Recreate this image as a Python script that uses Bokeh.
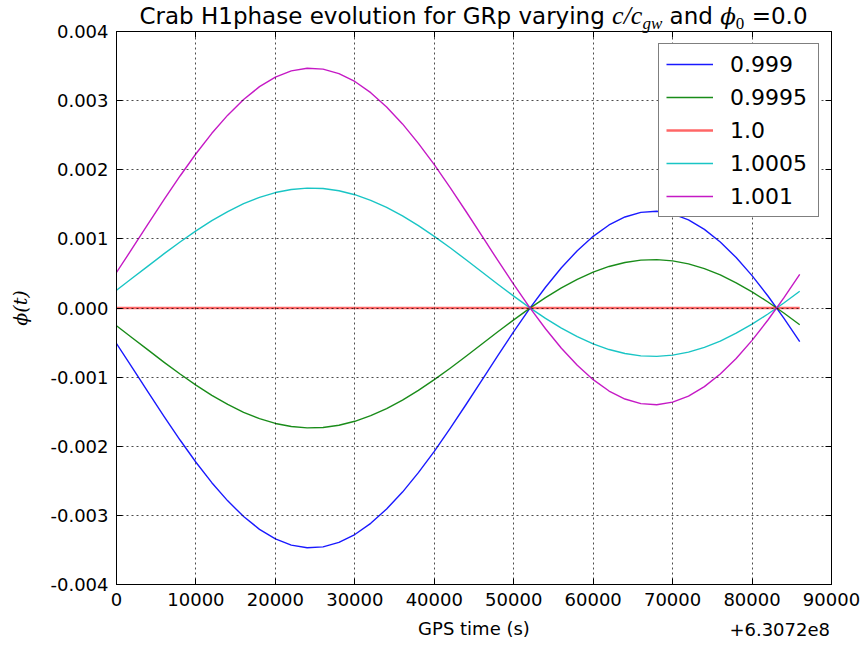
from bokeh.plotting import figure
from bokeh.embed import file_html
from bokeh.resources import INLINE
from bokeh.layouts import column
from bokeh.models import (Range1d, FixedTicker, NumeralTickFormatter, CustomJSTickFormatter,
                          LinearAxis, Legend, LegendItem, Div)

# GPS time since +6.3072e8 s
gps_time = [0, 2000, 4000, 6000, 8000, 10000, 12000, 14000, 16000, 18000,
            20000, 22000, 24000, 26000, 28000, 30000, 32000, 34000, 36000, 38000,
            40000, 42000, 44000, 46000, 48000, 50000, 52000, 54000, 56000, 58000,
            60000, 62000, 64000, 66000, 68000, 70000, 72000, 74000, 76000, 78000,
            80000, 82000, 84000, 86000]

# phase offset phi(t) for each value of c/c_gw
phase_0999 = [-0.000514, -0.000865, -0.001220, -0.001571, -0.001910, -0.002231, -0.002527, -0.002790,
              -0.003017, -0.003202, -0.003340, -0.003430, -0.003468, -0.003455, -0.003391, -0.003277,
              -0.003115, -0.002909, -0.002663, -0.002382, -0.002073, -0.001742, -0.001396, -0.001042,
              -0.000688, -0.000342, -0.000010, 0.000300, 0.000582, 0.000829, 0.001037, 0.001201,
              0.001317, 0.001384, 0.001399, 0.001362, 0.001275, 0.001138, 0.000955, 0.000730,
              0.000468, 0.000174, -0.000146, -0.000485]
phase_09995 = [-0.000257, -0.000433, -0.000610, -0.000786, -0.000955, -0.001116, -0.001264, -0.001395,
               -0.001509, -0.001601, -0.001670, -0.001715, -0.001734, -0.001728, -0.001696, -0.001639,
               -0.001558, -0.001455, -0.001332, -0.001191, -0.001037, -0.000871, -0.000698, -0.000521,
               -0.000344, -0.000171, -0.000005, 0.000150, 0.000291, 0.000415, 0.000519, 0.000601,
               0.000659, 0.000692, 0.000700, 0.000681, 0.000638, 0.000569, 0.000478, 0.000365,
               0.000234, 0.000087, -0.000073, -0.000243]
phase_1 = [0.0] * len(gps_time)
phase_10005 = [0.000257, 0.000433, 0.000610, 0.000786, 0.000955, 0.001116, 0.001264, 0.001395,
               0.001509, 0.001601, 0.001670, 0.001715, 0.001734, 0.001728, 0.001696, 0.001639,
               0.001558, 0.001455, 0.001332, 0.001191, 0.001037, 0.000871, 0.000698, 0.000521,
               0.000344, 0.000171, 0.000005, -0.000150, -0.000291, -0.000415, -0.000519, -0.000601,
               -0.000659, -0.000692, -0.000700, -0.000681, -0.000638, -0.000569, -0.000478, -0.000365,
               -0.000234, -0.000087, 0.000073, 0.000243]
phase_1001 = [0.000514, 0.000865, 0.001220, 0.001571, 0.001910, 0.002231, 0.002527, 0.002790,
              0.003017, 0.003202, 0.003340, 0.003430, 0.003468, 0.003455, 0.003391, 0.003277,
              0.003115, 0.002909, 0.002663, 0.002382, 0.002073, 0.001742, 0.001396, 0.001042,
              0.000688, 0.000342, 0.000010, -0.000300, -0.000582, -0.000829, -0.001037, -0.001201,
              -0.001317, -0.001384, -0.001399, -0.001362, -0.001275, -0.001138, -0.000955, -0.000730,
              -0.000468, -0.000174, 0.000146, 0.000485]

labels = ["0.999", "0.9995", "1.0", "1.0005", "1.001"]
x_ticks = [0, 10000, 20000, 30000, 40000, 50000, 60000, 70000, 80000, 90000]
y_ticks = [-0.004, -0.003, -0.002, -0.001, 0.0, 0.001, 0.002, 0.003, 0.004]

SANS = "DejaVu Sans"
SERIF = "DejaVu Serif"

p = figure(width=864, height=646, x_range=Range1d(0, 90000), y_range=Range1d(-0.004, 0.004),
           output_backend="svg", toolbar_location=None,
           min_border_left=116, min_border_right=33, min_border_top=31, min_border_bottom=62)
p.background_fill_color = "white"
p.border_fill_color = "white"
p.outline_line_color = "black"
p.outline_line_width = 1

series = [phase_0999, phase_09995, phase_1, phase_10005, phase_1001]
colors = ["#0000ff", "#008000", "#ff0000", "#00bfbf", "#bf00bf"]
widths = [1.4, 1.4, 2.6, 1.4, 1.4]
alphas = [0.9, 0.9, 0.6, 0.9, 0.9]
items = []
for ys, c, w, a, lab in zip(series, colors, widths, alphas, labels):
    r = p.line(gps_time, ys, line_color=c, line_width=w, line_alpha=a, line_join="round")
    items.append(LegendItem(label=lab, renderers=[r]))

# axes: ticks pointing inward on all four sides
bottom = p.below[0]
left = p.left[0]
bottom.ticker = FixedTicker(ticks=x_ticks)
left.ticker = FixedTicker(ticks=y_ticks)
bottom.formatter = NumeralTickFormatter(format="0")
left.formatter = NumeralTickFormatter(format="0.000")
top = LinearAxis(ticker=FixedTicker(ticks=x_ticks), formatter=CustomJSTickFormatter(code="return ''"))
right = LinearAxis(ticker=FixedTicker(ticks=y_ticks), formatter=CustomJSTickFormatter(code="return ''"))
p.add_layout(top, "above")
p.add_layout(right, "right")
for ax in (bottom, left, top, right):
    ax.axis_line_color = "black"
    ax.major_tick_in = 6
    ax.major_tick_out = 0
    ax.minor_tick_in = 0
    ax.minor_tick_out = 0
    ax.major_tick_line_color = "black"
    ax.major_label_text_font = SANS
    ax.major_label_text_font_size = "18px"
    ax.major_label_text_color = "black"
    ax.major_label_standoff = 8
top.major_label_standoff = 0
right.major_label_standoff = 0

bottom.axis_label = "GPS time (s)"
bottom.axis_label_text_font = SANS
bottom.axis_label_text_font_size = "18px"
bottom.axis_label_text_font_style = "normal"
bottom.axis_label_text_color = "black"
bottom.axis_label_standoff = 9

left.axis_label = "ϕ(t)"
left.axis_label_text_font = SERIF
left.axis_label_text_font_size = "19px"
left.axis_label_text_font_style = "italic"
left.axis_label_text_color = "black"
left.axis_label_standoff = 16

# dotted grid drawn over the curves
for g in (p.xgrid[0], p.ygrid[0]):
    g.grid_line_color = "black"
    g.grid_line_alpha = 0.7
    g.grid_line_dash = "2 3"
    g.grid_line_width = 1
    g.level = "guide"
p.xgrid[0].ticker = FixedTicker(ticks=x_ticks)
p.ygrid[0].ticker = FixedTicker(ticks=y_ticks)

legend = Legend(items=items, location="top_right")
legend.label_text_font = SANS
legend.label_text_font_size = "22px"
legend.label_text_color = "black"
legend.glyph_width = 47
legend.glyph_height = 26
legend.label_height = 26
legend.label_width = 81
legend.spacing = 7
legend.padding = 7
legend.margin = 12
legend.label_standoff = 17
legend.border_line_color = "black"
legend.border_line_width = 1
legend.background_fill_color = "white"
legend.background_fill_alpha = 1.0
p.add_layout(legend)

# title with math parts, and the x-axis offset text, laid over the plot as HTML
math = "font-family:'Liberation Serif';font-style:italic;font-size:26px;"
phi = "font-family:'DejaVu Serif';font-style:italic;font-size:23px;"
sub = "position:relative;top:5px;font-size:17px;"
title_html = (
    "Crab H1phase evolution for GRp varying "
    f"<span style=\"{math}\">c/c<span style=\"{sub}\">gw</span></span>"
    " and "
    f"<span style=\"{phi}\">ϕ<span style=\"{sub}font-family:'Liberation Serif';font-style:normal;\">0</span></span>"
    "&nbsp;=0.0"
)
overlay = (
    "<div style=\"position:absolute;left:0;top:0;width:864px;height:646px;pointer-events:none;"
    "font-family:'DejaVu Sans';color:black;\">"
    "<div style=\"position:absolute;left:116px;top:4px;width:715px;text-align:center;"
    f"font-size:23px;line-height:23px;white-space:nowrap;\">{title_html}</div>"
    "<div style=\"position:absolute;right:34px;top:621px;font-size:18px;line-height:18px;"
    "white-space:nowrap;\">+6.3072e8</div>"
    "</div>"
)
div = Div(text=overlay, width=864, height=0, margin=(0, 0, 0, 0),
          styles={"position": "relative", "z-index": "10", "overflow": "visible"},
          stylesheets=[":host, :host * { overflow: visible !important; }"])

layout = column(div, p, spacing=0)
open("out.html", "w").write(file_html(layout, INLINE))
